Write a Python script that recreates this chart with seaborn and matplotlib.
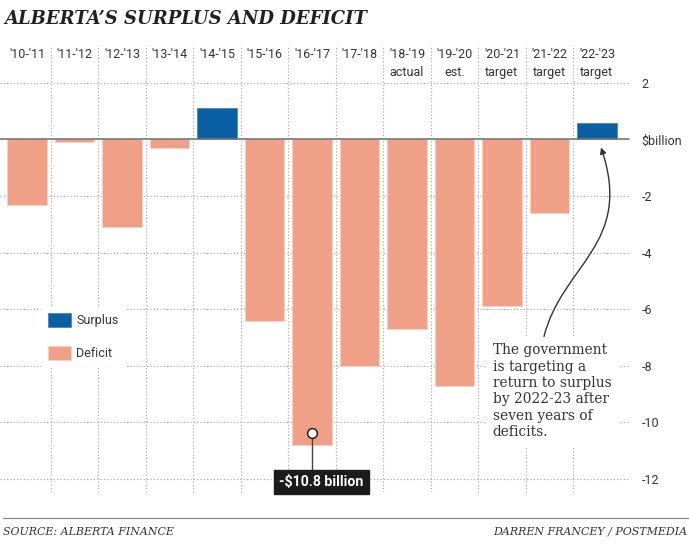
import pandas as pd
import seaborn as sns
from matplotlib import pyplot as plt
from matplotlib.path import Path
from matplotlib.patches import FancyArrowPatch

years = ["'10-'11", "'11-'12", "'12-'13", "'13-'14", "'14-'15", "'15-'16", "'16-'17",
         "'17-'18", "'18-'19", "'19-'20", "'20-'21", "'21-'22", "'22-'23"]
sublabels = ["", "", "", "", "", "", "", "", "actual", "est.", "target", "target", "target"]
balance = [-2.3, -0.1, -3.1, -0.3, 1.1, -6.4, -10.8, -8.0, -6.7, -8.7, -5.9, -2.6, 0.6]
y_ticks = [2, 0, -2, -4, -6, -8, -10, -12]
y_ticklabels = ["2", "$billion", "-2", "-4", "-6", "-8", "-10", "-12"]

SURPLUS = "#0b5fa3"
DEFICIT = "#f0a086"
INK = "#333333"
GRID = "#a0a0a0"

cond = ["Roboto", "DejaVu Sans"]
serif = ["DejaVu Serif"]

df = pd.DataFrame({"year": years, "value": balance})
df["kind"] = ["Surplus" if v > 0 else "Deficit" for v in balance]

sns.set_style("white")
plt.rcParams["font.family"] = cond

fig = plt.figure(figsize=(6.89, 5.50), dpi=100)
ax = fig.add_axes([3.25 / 689, 1 - 492 / 550, 617.5 / 689, 447 / 550])

sns.barplot(data=df, x="year", y="value", hue="kind", hue_order=["Surplus", "Deficit"],
            palette={"Surplus": SURPLUS, "Deficit": DEFICIT}, dodge=False, width=0.83,
            saturation=1, edgecolor="#f8d3c5", linewidth=0.7, ax=ax, zorder=3)
for p in ax.patches:
    if p.get_facecolor()[0] < 0.5:
        p.set_edgecolor("#4f8dc3")

ax.set_xlim(-0.5, 12.5)
ax.set_ylim(-12.46, 3.34)
for s in ax.spines.values():
    s.set_visible(False)
ax.set_xlabel("")
ax.set_ylabel("")
ax.set_xticks([])

# right-hand value labels
ax.yaxis.tick_right()
ax.set_yticks(y_ticks)
ax.set_yticklabels(y_ticklabels)
ax.tick_params(axis="y", length=0, pad=15, labelsize=9, labelcolor=INK)

# dotted grid
for v in y_ticks:
    if v != 0:
        ax.axhline(v, xmin=-0.005, xmax=1.012, color=GRID, lw=0.8, ls=(0, (1, 2)),
                   clip_on=False, zorder=0)
for i in range(12):
    ax.axvline(i + 0.5, color=GRID, lw=0.8, ls=(0, (1, 2)), zorder=0)
ax.axhline(0, xmin=-0.005, xmax=1.013, color="#777777", lw=1.2, clip_on=False, zorder=4)

# column headers
for i, (yr, sub) in enumerate(zip(years, sublabels)):
    ax.text(i, 3.0, yr, ha="center", va="center", fontsize=9, color=INK)
    if sub:
        ax.text(i, 2.37, sub, ha="center", va="center", fontsize=9, color=INK)

# legend
handles, labels = ax.get_legend_handles_labels()
leg = ax.legend(handles, labels, loc="upper left", bbox_to_anchor=(38 / 617.5, 1 - (307 - 45) / 447),
                frameon=True, facecolor="white", edgecolor="white", framealpha=1,
                fontsize=9, handlelength=1.9, handleheight=1.3, labelspacing=1.5,
                handletextpad=0.4, borderpad=0.5, borderaxespad=0)
leg.set_zorder(5)
for t in leg.get_texts():
    t.set_color(INK)

# callout on the largest deficit
ax.plot([6, 6], [-10.36, -11.75], color="#444444", lw=1, zorder=6)
ax.plot(6, -10.36, marker="o", ms=7, mfc="white", mec="#222222", mew=1.1, zorder=7)
ax.text(6.2, -12.12, "-$10.8 billion", ha="center", va="center", fontsize=10.2,
        fontweight="bold", color="white", zorder=7,
        bbox=dict(boxstyle="square,pad=0.35", fc="#1c1c1c", ec="#1c1c1c"))

# note text
ax.text(9.8, -8.9,
        "The government\nis targeting a\nreturn to surplus\nby 2022-23 after\nseven years of\ndeficits.",
        ha="left", va="center", fontsize=9.9, family=serif, color=INK, linespacing=1.22,
        zorder=6, bbox=dict(boxstyle="square,pad=0.45", fc="white", ec="white"))


def to_data(px, py):
    return ((px - 27) / 47.5, (140 - py) / 28.29)


verts = [to_data(544, 337), to_data(562, 265), to_data(634, 245), to_data(601, 148)]
arrow = FancyArrowPatch(path=Path(verts, [Path.MOVETO, Path.CURVE4, Path.CURVE4, Path.CURVE4]),
                        arrowstyle="-|>", mutation_scale=9, lw=1, color="#333333",
                        transform=ax.transData, zorder=7)
ax.add_patch(arrow)

# title and footer
fig.text(4 / 689, 1 - 19 / 550, "ALBERTA\u2019S SURPLUS AND DEFICIT", ha="left", va="center",
         fontsize=13, fontweight="bold", fontstyle="italic", family=serif, color="#222222")
fig.add_artist(plt.Line2D([3 / 689, 1], [1 - 518 / 550] * 2, color="#888888", lw=0.9))
fig.text(3 / 689, 1 - 532 / 550, "SOURCE: ALBERTA FINANCE", ha="left", va="center",
         fontsize=7.9, fontstyle="italic", family=serif, color=INK)
fig.text(687 / 689, 1 - 532 / 550, "DARREN FRANCEY / POSTMEDIA", ha="right", va="center",
         fontsize=7.9, fontstyle="italic", family=serif, color=INK)

fig.savefig("out.png", dpi=100, facecolor="white")
